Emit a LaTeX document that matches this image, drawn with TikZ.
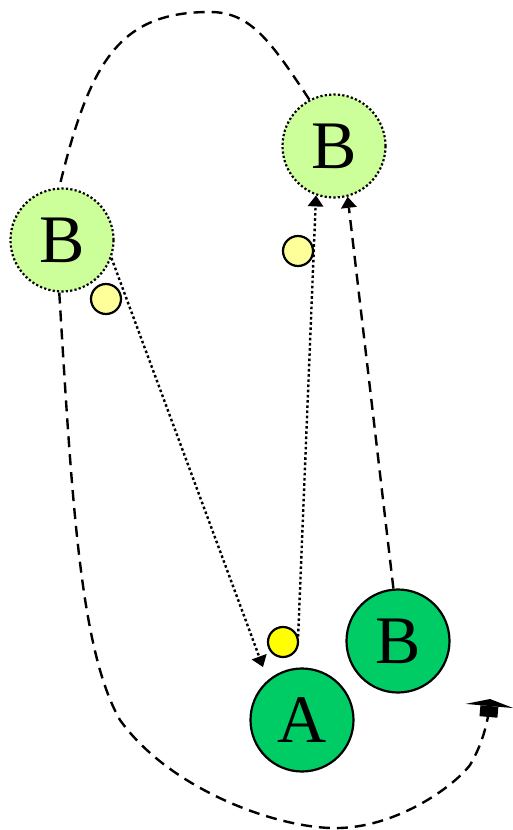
\documentclass[tikz,border=0pt]{standalone}
\usepackage{fontspec}
\setmainfont{Liberation Serif}
\usetikzlibrary{arrows.meta}
\definecolor{darkgreen}{HTML}{00CC66}
\definecolor{palegreen}{HTML}{CCFF99}
\definecolor{paleyellow}{HTML}{FFFF99}
\definecolor{brightyellow}{HTML}{FFFF00}
\tikzset{
  big/.style={circle,draw,line width=2.2pt,minimum size=103pt,inner sep=0pt,
    font=\fontsize{68}{68}\selectfont},
  solidbig/.style={big,fill=darkgreen},
  ghostbig/.style={big,fill=palegreen,dash pattern=on 2.2pt off 2.2pt},
  token/.style={circle,draw,line width=2.2pt,minimum size=30pt,inner sep=0pt},
  dashedline/.style={line width=2.4pt,dash pattern=on 11pt off 7pt},
  dottedline/.style={line width=2.4pt,dash pattern=on 2.6pt off 2.6pt},
  movetip/.style={-{Triangle[width=16pt,length=11pt,line width=0pt,fill=black]}},
  goaltip/.style={-{Square[length=11pt,width=18pt,line width=0pt]Triangle[width=48pt,length=7pt,line width=0pt]}}
}
\begin{document}
\begin{tikzpicture}[x=1pt,y=-1pt]
  \useasboundingbox (0,0) rectangle (513,830);
  % the two balls and their ghosts
  \node[ghostbig] (bleft) at (62,240) {B};
  \node[ghostbig] (btop) at (334,146) {B};
  \node[solidbig] (a) at (302,720) {A};
  \node[solidbig] (b) at (398,641) {B};
  % tokens
  \node[token,fill=paleyellow] (tleft) at (106,299) {};
  \node[token,fill=paleyellow] (ttop) at (298,251) {};
  \node[token,fill=brightyellow] (ta) at (283,642) {};
  \coordinate (hita) at (263,667);
  \coordinate (goal) at (490,699);
  % moves
  \draw[dottedline,movetip] (bleft.-20) -- (hita);
  \draw[dottedline,movetip] (ta.20) -- (btop.-110);
  \draw[dashedline,movetip] (b.95) -- (btop.-75);
  \draw[dashedline] (btop.118) .. controls (270,40) and (250,12) .. (210,12)
    .. controls (120,12) and (90,60) .. (bleft.93);
  \draw[dashedline,goaltip]
    (bleft.-93) .. controls (72,500) and (80,650) .. (120,720)
    .. controls (170,790) and (280,830) .. (340,828)
    .. controls (400,826) and (455,785) .. (470,765)
    .. controls (482,745) and (488,722) .. (goal);
\end{tikzpicture}
\end{document}
